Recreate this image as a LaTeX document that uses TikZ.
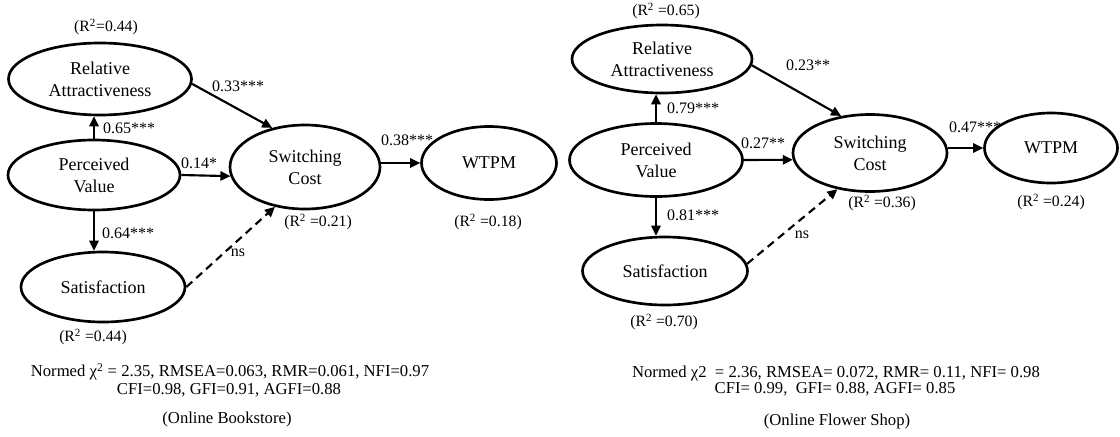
\documentclass[tikz,border=0pt]{standalone}
\usepackage{fontspec}
\setmainfont{Liberation Serif}
\usetikzlibrary{shapes.geometric,arrows.meta}
\newcommand{\rsq}[1]{(R\textsuperscript{2} =#1)}
\begin{document}
\begin{tikzpicture}[x=0.75pt, y=-0.75pt,
    latent/.style={ellipse, draw, line width=2pt, inner sep=0pt, align=center,
      font=\fontsize{13.5}{16.5}\selectfont},
    dims/.style 2 args={minimum width=#1*0.75pt, minimum height=#2*0.75pt},
    effect/.style={line width=1.6pt, -{Triangle[length=7.5pt,width=7pt]}},
    nseffect/.style={effect, dash pattern=on 6pt off 4pt},
    coef/.style={font=\fontsize{12}{14}\selectfont},
    rlabel/.style={font=\fontsize{11.8}{14}\selectfont},
    fitline/.style={font=\fontsize{12.5}{15}\selectfont}]
    \useasboundingbox (0,0) rectangle (1120,436);
    % online bookstore
    \node[latent, dims={183}{72}] (ra1) at (100,79) {Relative\\Attractiveness};
    \node[latent, dims={172}{70}] (pv1) at (94,175) {Perceived\\Value};
    \node[latent, dims={164}{70}] (sat1) at (103,287) {Satisfaction};
    \node[latent, dims={150}{84}] (sc1) at (305,167) {Switching\\Cost};
    \node[latent, dims={135}{73}] (wt1) at (489,163) {WTPM};
    \draw[effect] (pv1.north) -- (pv1.north |- ra1.south);
    \draw[effect] (pv1.south) -- (pv1.south |- sat1.north);
    \draw[effect] (pv1.east) -- (sc1.187);
    \draw[effect] (ra1.-3) -- (sc1.130);
    \draw[nseffect] (sat1.east) -- (sc1.233);
    \draw[effect] (wt1.west -| sc1.east) -- (wt1.west);
    \node[rlabel] (r1ra) at (106,27) {(R\textsuperscript{2}=0.44)};
    \node[coef] (c1ra) at (129,128) {0.65***};
    \node[coef] (c1sat) at (128,233) {0.64***};
    \node[coef] (c1pv) at (199,163) {0.14*};
    \node[coef] (c1rasc) at (238,86) {0.33***};
    \node[coef] (c1ns) at (238,253) {ns};
    \node[coef] (c1wt) at (407,140) {0.38***};
    \node[rlabel] (r1sc) at (318,222) {\rsq{0.21}};
    \node[rlabel] (r1wt) at (488,222) {\rsq{0.18}};
    \node[rlabel] (r1sat) at (93,337) {\rsq{0.44}};
    \node[fitline] (f1a) at (230,372) {Normed χ\textsuperscript{2} = 2.35, RMSEA=0.063, RMR=0.061, NFI=0.97};
    \node[fitline] (f1b) at (229,390) {CFI=0.98, GFI=0.91, AGFI=0.88};
    \node[fitline] (cap1) at (227,419) {(Online Bookstore)};
    % online flower shop
    \node[latent, dims={180}{68}] (ra2) at (662,59) {Relative\\Attractiveness};
    \node[latent, dims={173}{73}] (pv2) at (656,160) {Perceived\\Value};
    \node[latent, dims={165}{68}] (sat2) at (665,271) {Satisfaction};
    \node[latent, dims={154}{77}] (sc2) at (870,153) {Switching\\Cost};
    \node[latent, dims={133}{70}] (wt2) at (1051,148) {WTPM};
    \draw[effect] (pv2.north) -- (pv2.north |- ra2.south);
    \draw[effect] (pv2.south) -- (pv2.south |- sat2.north);
    \draw[effect] (pv2.east) -- (sc2.185);
    \draw[effect] (ra2.-4) -- (sc2.128);
    \draw[nseffect] (sat2.5) -- (sc2.228);
    \draw[effect] (wt2.west -| sc2.east) -- (wt2.west);
    \node[rlabel] (r2ra) at (666,11) {\rsq{0.65}};
    \node[coef] (c2ra) at (693,108) {0.79***};
    \node[coef] (c2sat) at (693,215) {0.81***};
    \node[coef] (c2pv) at (763,143) {0.27**};
    \node[coef] (c2rasc) at (808,65) {0.23**};
    \node[coef] (c2ns) at (802,235) {ns};
    \node[coef] (c2wt) at (975,127) {0.47***};
    \node[rlabel] (r2sc) at (882,203) {\rsq{0.36}};
    \node[rlabel] (r2wt) at (1051,202) {\rsq{0.24}};
    \node[rlabel] (r2sat) at (664,322) {\rsq{0.70}};
    \node[fitline] (f2a) at (836,373) {Normed χ2 \ = 2.36, RMSEA= 0.072, RMR= 0.11, NFI= 0.98};
    \node[fitline] (f2b) at (835,389) {CFI= 0.99, \ GFI= 0.88, AGFI= 0.85};
    \node[fitline] (cap2) at (837,421) {(Online Flower Shop)};
\end{tikzpicture}
\end{document}
